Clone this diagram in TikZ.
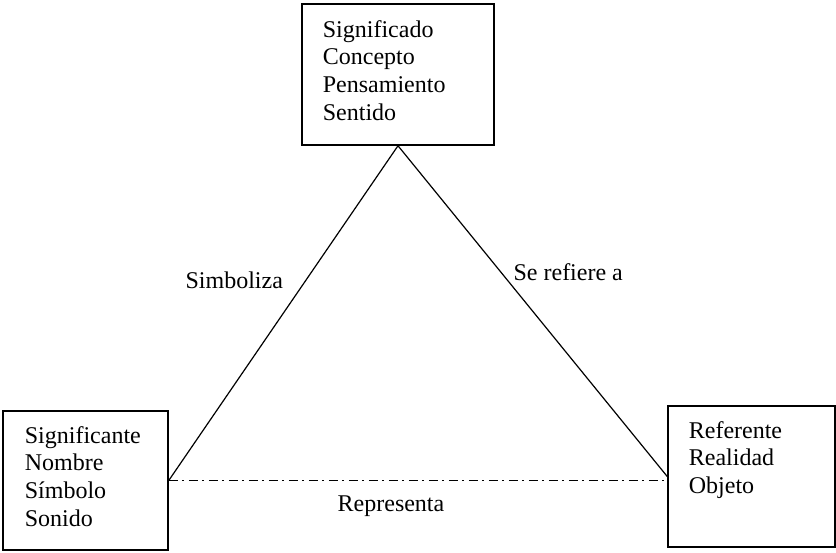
\documentclass[tikz,border=0pt]{standalone}
\usepackage{fontspec}
\setmainfont{Liberation Serif}
\usetikzlibrary{positioning}

\begin{document}
\begin{tikzpicture}[x=1pt, y=-1pt, line width=1.2pt, font=\fontsize{24}{27.6}\selectfont,
  box node/.style={draw, line width=1.5pt, inner sep=0pt},
  list node/.style={align=left, inner sep=0pt},
  label node/.style={inner sep=0pt, anchor=base west},
  dashdot line/.style={line width=1.1pt, dash pattern=on 9pt off 4pt on 2pt off 5pt}]

  \useasboundingbox (0,0) rectangle (836,552);

  % Define nodes
  \node[box node, minimum width=192pt, minimum height=141pt] (sdo) at (398,74.5) {};
  \node[box node, minimum width=165pt, minimum height=139pt] (ste) at (85.5,480.5) {};
  \node[box node, minimum width=167pt, minimum height=141pt] (ref) at (751.5,476.5) {};

  \node[list node] (sdotext) [below right=16.5pt and 21pt of sdo.north west] {Significado\\Concepto\\Pensamiento\\Sentido};
  \node[list node] (stetext) [below right=15.5pt and 22pt of ste.north west] {Significante\\Nombre\\S\'imbolo\\Sonido};
  \node[list node] (reftext) [below right=15.5pt and 21pt of ref.north west] {Referente\\Realidad\\Objeto};

  % Define edges
  \path[draw]
    (sdo.south) -- (ste.east)
    (sdo.south) -- (ref.west);
  \draw[dashdot line] (ste.east) -- (ste.east -| ref.west);

  % Edge labels
  \node[label node] (simb) at (185,288) {Simboliza};
  \node[label node] (refi) at (513,280) {Se refiere a};
  \node[label node, anchor=base] (repr) at (391,511) {Representa};
\end{tikzpicture}
\end{document}
